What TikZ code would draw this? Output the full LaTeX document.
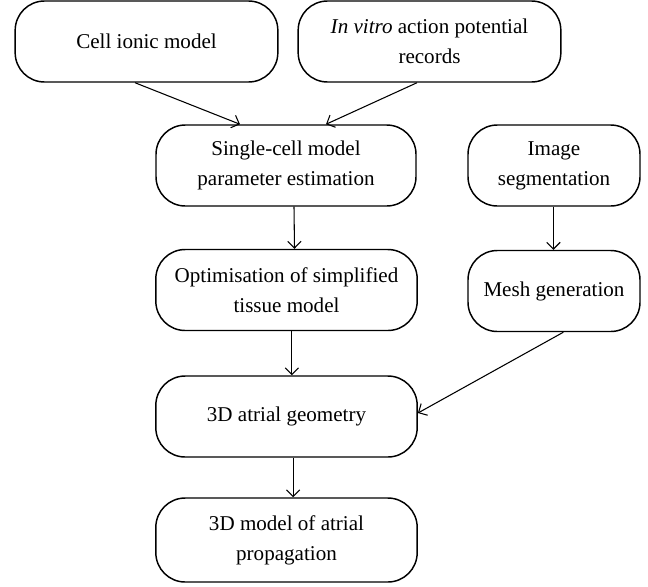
\documentclass[tikz,border=0pt]{standalone}
\usepackage{fontspec}
\setmainfont{Liberation Serif}
\usetikzlibrary{positioning,arrows.meta}

\begin{document}
\begin{tikzpicture}[x=0.75pt,y=-0.75pt,
  stage/.style={draw, line width=1.1pt, rounded corners=22pt, align=center,
    inner sep=0pt, minimum height=60.75pt, font=\fontsize{15.8}{22.5}\selectfont},
  flow/.style={-{Straight Barb[length=5pt,width=10pt]}, line width=0.8pt}]
  \useasboundingbox (0,0) rectangle (648,586);

  % inputs
  \node[stage, minimum width=197pt] (cell) at (146.5,41.5) {Cell ionic model};
  \node[stage, minimum width=197pt] (vitro) at (429.5,41.5) {\textit{In vitro} action potential\\records};

  % model chain
  \node[stage, minimum width=195pt] (single) at (286,165.5) {Single-cell model\\parameter estimation};
  \node[stage, minimum width=196pt] (optim) at (286.5,290) {Optimisation of simplified\\tissue model};
  \node[stage, minimum width=196pt] (geom) at (286.5,416.5) {3D atrial geometry};
  \node[stage, minimum width=196pt, minimum height=63pt] (prop) at (286.5,540) {3D model of atrial\\propagation};

  % imaging chain
  \node[stage, minimum width=129pt] (image) at (554,165.5) {Image\\segmentation};
  \node[stage, minimum width=129pt] (mesh) at (554,291) {Mesh generation};

  \draw[flow] ([xshift=-8.6pt]cell.south) -- ([xshift=-34.5pt]single.north);
  \draw[flow] ([xshift=-9.4pt]vitro.south) -- ([xshift=30pt]single.north);
  \draw[flow] ([xshift=6pt]single.south) -- ([xshift=6pt]optim.north);
  \draw[flow] ([xshift=-0.4pt]image.south) -- ([xshift=-0.4pt]mesh.north);
  \draw[flow] ([xshift=4pt]optim.south) -- ([xshift=4pt]geom.north);
  \draw[flow] ([xshift=7pt]mesh.south) -- ([yshift=2.6pt]geom.east);
  \draw[flow] ([xshift=5pt]geom.south) -- ([xshift=5pt]prop.north);
\end{tikzpicture}
\end{document}
